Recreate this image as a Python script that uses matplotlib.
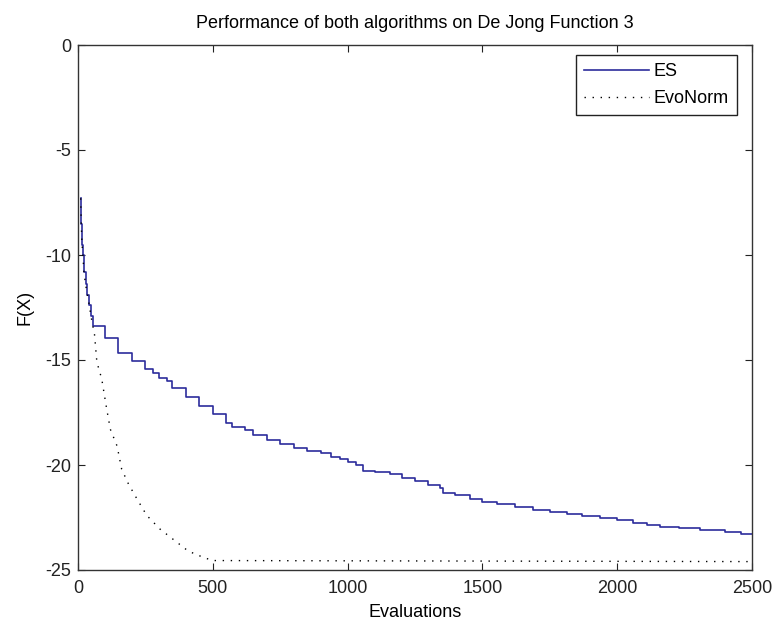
import matplotlib
matplotlib.use("Agg")
import matplotlib.pyplot as plt

plt.rcParams['font.family'] = ['Liberation Sans', 'DejaVu Sans']
plt.rcParams['axes.unicode_minus'] = False

# ES (best fitness, step curve)
es_x = [10, 12, 15, 18, 22, 28, 35, 42, 48, 55, 100, 150, 200, 250, 280, 300, 330,
        350, 400, 450, 500, 550, 570, 620, 650, 700, 750, 800, 850, 900, 940, 972,
        1000, 1030, 1058, 1100, 1157, 1200, 1250, 1300, 1342, 1354, 1400, 1454, 1500,
        1553, 1620, 1689, 1750, 1812, 1870, 1936, 2000, 2060, 2110, 2159, 2230, 2308,
        2400, 2460, 2500]
es_y = [-7.3, -8.5, -9.5, -10.0, -10.8, -11.4, -11.9, -12.4, -12.9, -13.4, -13.95,
        -14.65, -15.07, -15.45, -15.6, -15.85, -16.0, -16.35, -16.75, -17.2, -17.55,
        -18.0, -18.2, -18.35, -18.55, -18.8, -19.0, -19.2, -19.35, -19.45, -19.6,
        -19.73, -19.85, -20.0, -20.3, -20.35, -20.45, -20.6, -20.76, -20.95, -21.08,
        -21.32, -21.45, -21.63, -21.75, -21.87, -22.0, -22.14, -22.24, -22.34, -22.42,
        -22.5, -22.63, -22.77, -22.85, -22.93, -23.0, -23.09, -23.2, -23.29, -23.3]

# EvoNorm
evo_x = [10, 12, 15, 18, 22, 28, 35, 42, 48, 55, 60, 70, 88, 106, 120, 145, 162,
         187, 218, 255, 304, 354, 409, 465, 500, 2500]
evo_y = [-7.3, -8.5, -9.5, -10.0, -10.8, -11.4, -11.9, -12.4, -12.9, -13.4, -13.6,
         -15.1, -15.9, -17.3, -18.3, -19.1, -20.2, -20.9, -21.6, -22.4, -23.05,
         -23.55, -24.1, -24.4, -24.55, -24.6]

x_ticks = [0, 500, 1000, 1500, 2000, 2500]
y_ticks = [0, -5, -10, -15, -20, -25]

fig = plt.figure(figsize=(7.76, 6.27), dpi=100)
ax = fig.add_axes([78/776, 57/627, 674/776, 525/627])

ax.plot(es_x, es_y, drawstyle='steps-post', color='#2c2c9c', lw=1.2, label='ES')
ax.plot(evo_x, evo_y, color='black', lw=1.0, linestyle=(0, (1, 4.8)), label='EvoNorm')

ax.set_xlim(0, 2500)
ax.set_ylim(-25, 0)
ax.set_xticks(x_ticks)
ax.set_yticks(y_ticks)
ax.tick_params(direction='in', length=5, width=0.8, top=True, right=True,
               labelsize=13, colors='#222222', pad=5)
ax.tick_params(axis='x', pad=7)
for s in ax.spines.values():
    s.set_color('#333333')
    s.set_linewidth(1.0)

ax.set_title('Performance of both algorithms on De Jong Function 3', fontsize=13, pad=12)
ax.set_xlabel('Evaluations', fontsize=13, labelpad=5)
ax.set_ylabel('F(X)', fontsize=13, labelpad=8)

leg = ax.legend(loc='upper right', bbox_to_anchor=(737/776, 1 - 55/627),
                bbox_transform=fig.transFigure, fontsize=13, fancybox=False,
                framealpha=1, edgecolor='#222222', handlelength=3.6,
                borderaxespad=0, borderpad=0.45, labelspacing=0.55, handletextpad=0.25)
leg.get_frame().set_linewidth(1.0)

fig.savefig('out.png', dpi=100)
